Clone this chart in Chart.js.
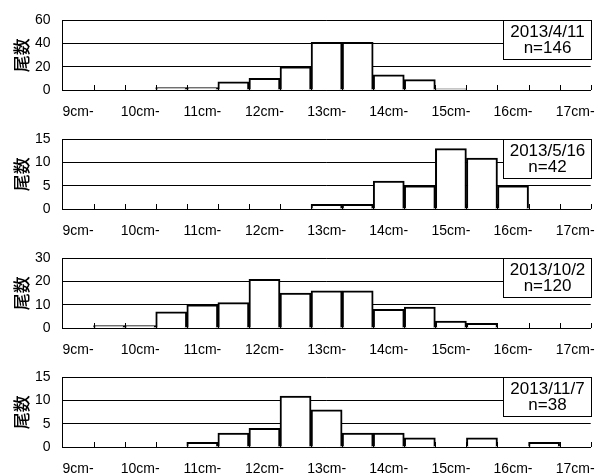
<!DOCTYPE html>
<html lang="ja">
<head>
<meta charset="UTF-8">
<title>尾数</title>
<script src="https://cdn.jsdelivr.net/npm/chart.js"></script>
<style>
  body { margin: 0; background: #fff; }
  #wrap { position: relative; width: 609px; height: 476px; }
  .panel { position: absolute; left: 0; width: 609px; height: 119px; }
</style>
</head>
<body>
<div id="wrap">
  <div class="panel" style="top:0px"><canvas id="c0"></canvas></div>
  <div class="panel" style="top:119px"><canvas id="c1"></canvas></div>
  <div class="panel" style="top:238px"><canvas id="c2"></canvas></div>
  <div class="panel" style="top:357px"><canvas id="c3"></canvas></div>
</div>
<script>
// 0.5cm classes
const categories = ['9', '9.5', '10', '10.5', '11', '11.5', '12', '12.5', '13',
  '13.5', '14', '14.5', '15', '15.5', '16', '16.5', '17'];
const tickLabels = ['9cm-', '10cm-', '11cm-', '12cm-', '13cm-', '14cm-', '15cm-', '16cm-', '17cm-'];

const apr11 = [0, 0, 0, 2, 2, 7, 10, 20, 41, 41, 13, 9, 1, 0, 0, 0, 0];
const may16 = [0, 0, 0, 0, 0, 0, 0, 0, 1, 1, 6, 5, 13, 11, 5, 0, 0];
const oct2 = [0, 1, 1, 7, 10, 11, 21, 15, 16, 16, 8, 9, 3, 2, 0, 0, 0];
const nov7 = [0, 0, 0, 0, 1, 3, 4, 11, 8, 3, 3, 2, 0, 2, 0, 1, 0];

const dates = ['2013/4/11', '2013/5/16', '2013/10/2', '2013/11/7'];
const counts = [146, 42, 120, 38];
const yMax = [60, 15, 30, 15];
const yStep = [20, 5, 10, 5];
const series = [apr11, may16, oct2, nov7];

Chart.defaults.font.family = "'Liberation Sans', Arial, sans-serif";
Chart.defaults.color = '#000';

// inside ticks on the x axis + the date box
const panelDecor = {
  id: 'panelDecor',
  afterDatasetsDraw(chart, args, opts) {
    const ctx = chart.ctx;
    const area = chart.chartArea;
    const x = chart.scales.x;
    const n = chart.data.labels.length;
    ctx.save();
    ctx.strokeStyle = '#000';
    ctx.lineWidth = 1;
    ctx.beginPath();
    for (let i = 1; i <= n; i++) {
      const px = Math.round(x.getPixelForDecimal(i / n)) + 0.5;
      ctx.moveTo(px, area.bottom);
      ctx.lineTo(px, area.bottom - 5);
    }
    ctx.stroke();

    const w = 88, h = 39;
    const bx = Math.round(area.right - w) + 0.5;
    const by = Math.round(area.top) + 0.5;
    ctx.fillStyle = '#fff';
    ctx.fillRect(bx, by, w, h);
    ctx.strokeRect(bx, by, w, h);
    ctx.fillStyle = '#000';
    ctx.font = "17px 'Liberation Sans', Arial, sans-serif";
    ctx.textAlign = 'center';
    ctx.textBaseline = 'middle';
    ctx.fillText(opts.lines[0], bx + w / 2, by + 12);
    ctx.fillText(opts.lines[1], bx + w / 2, by + 28);
    ctx.restore();
  }
};

series.forEach((vals, k) => {
  new Chart(document.getElementById('c' + k), {
    type: 'bar',
    data: {
      labels: categories,
      datasets: [{
        data: vals,
        backgroundColor: '#fff',
        borderColor: '#000',
        borderWidth: 2,
        barPercentage: 1,
        categoryPercentage: 1
      }]
    },
    options: {
      responsive: true,
      maintainAspectRatio: false,
      animation: false,
      layout: { padding: { top: 17, right: 13, left: 0, bottom: 0 } },
      plugins: {
        legend: { display: false },
        tooltip: { enabled: false },
        panelDecor: { lines: [dates[k], 'n=' + counts[k]] }
      },
      scales: {
        x: {
          offset: true,
          grid: { display: false, drawTicks: false },
          border: { display: true, color: '#000', width: 1 },
          ticks: {
            autoSkip: false,
            maxRotation: 0,
            padding: 14,
            font: { size: 14 },
            callback: (v, i) => (i % 2 === 0 ? tickLabels[i / 2] : '')
          },
          afterFit: s => { s.height = 29; }
        },
        y: {
          min: 0,
          max: yMax[k],
          ticks: { stepSize: yStep[k], padding: 12, font: { size: 14 } },
          grid: { color: '#000', lineWidth: 1, drawTicks: false },
          border: { display: true, color: '#000', width: 1 },
          title: {
            display: true,
            text: '尾数',
            font: { family: "'Noto Sans CJK JP', sans-serif", size: 17, weight: '500' },
            padding: { top: 11, bottom: 0 }
          },
          afterFit: s => { s.width = 62.5; }
        }
      }
    },
    plugins: [panelDecor]
  });
});
</script>
</body>
</html>
